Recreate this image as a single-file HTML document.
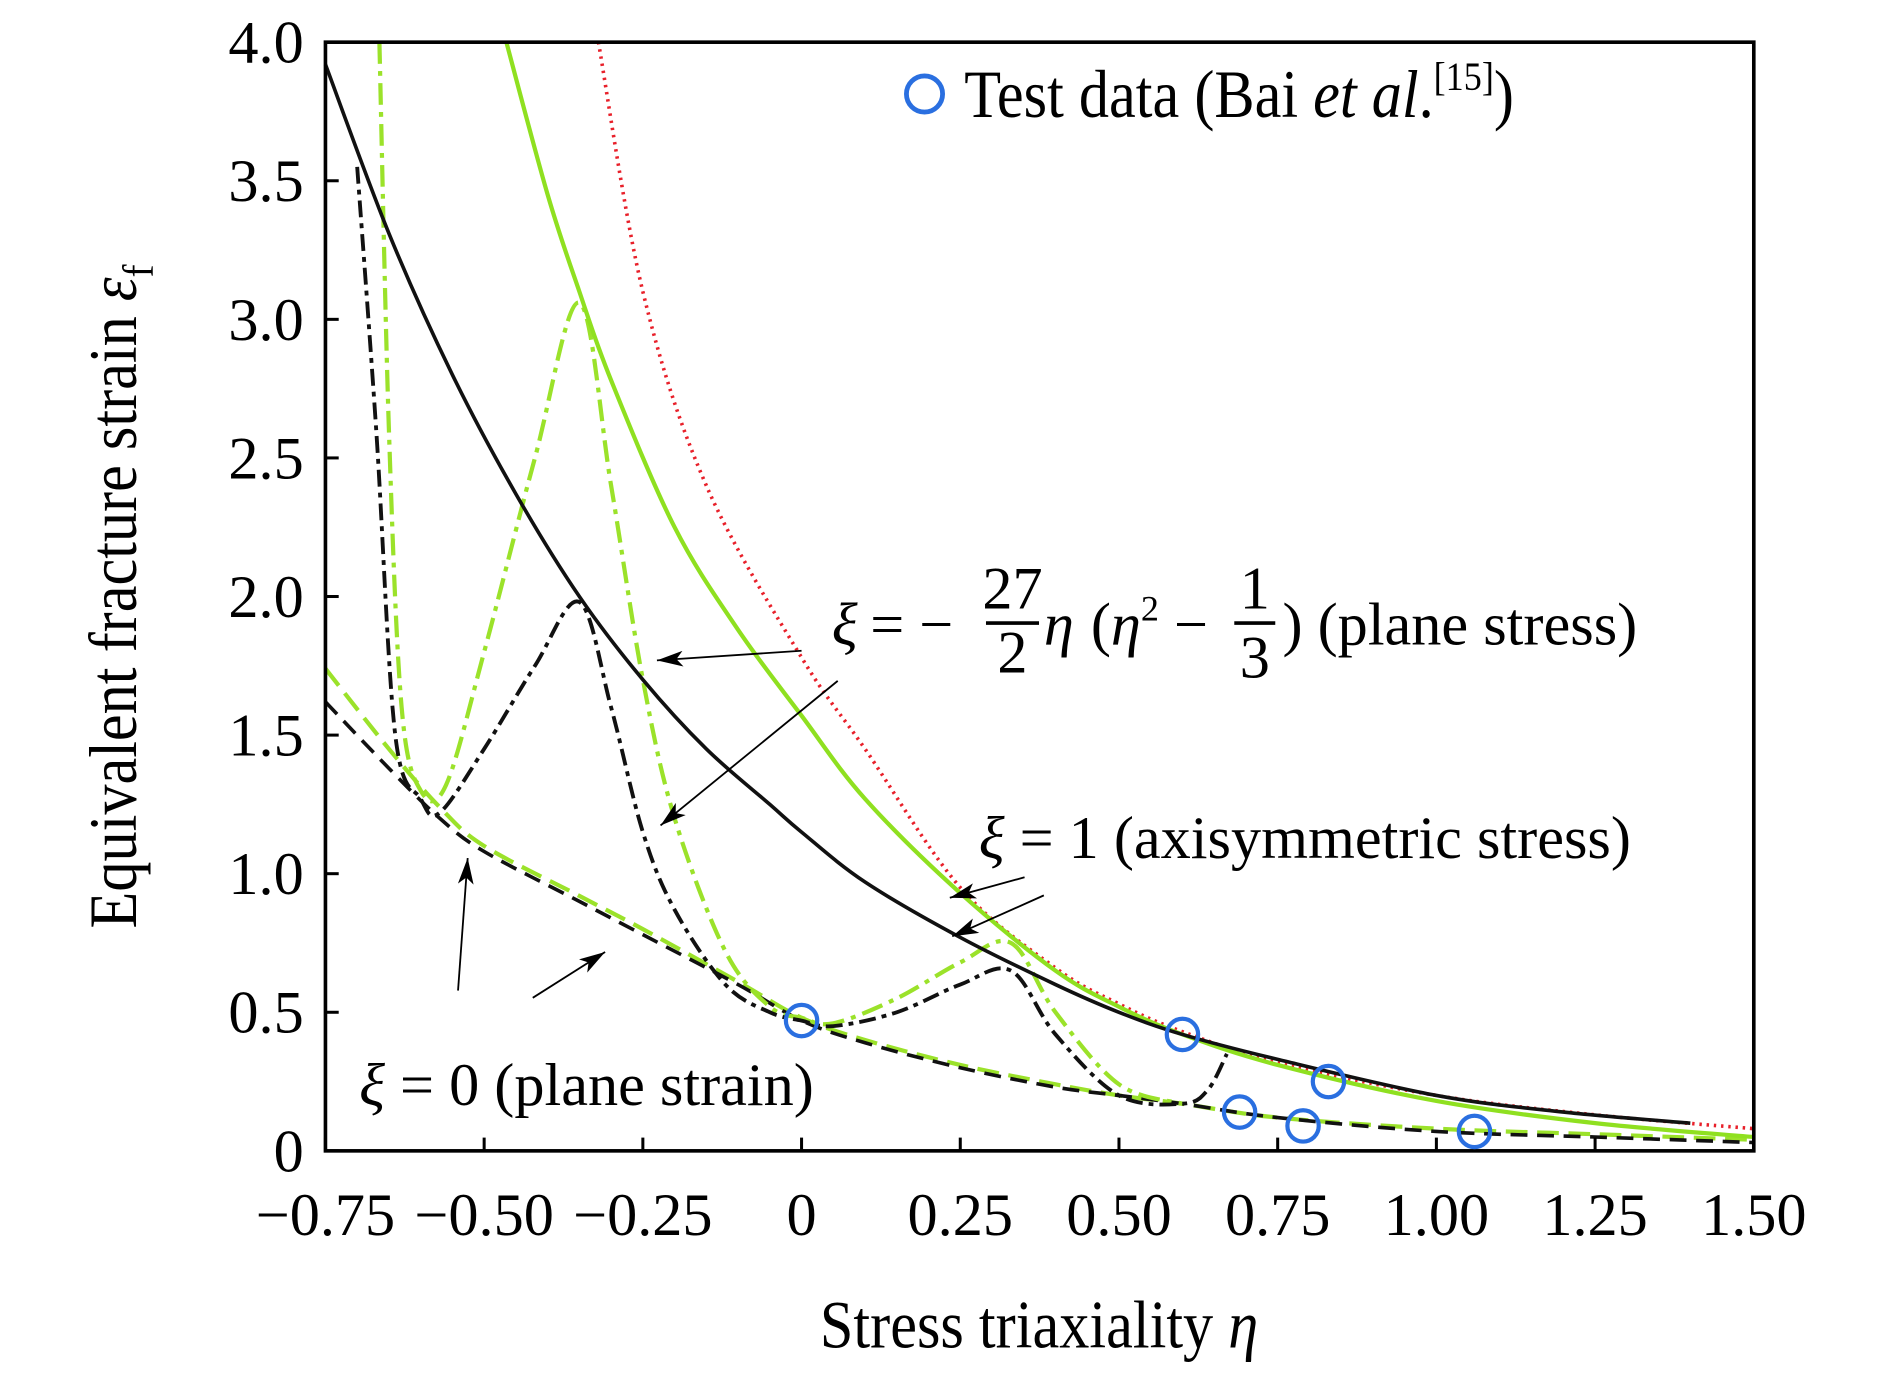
<!DOCTYPE html>
<html><head><meta charset="utf-8"><style>
html,body{margin:0;padding:0;background:#fff;}
svg{display:block;}
text{font-family:"Liberation Serif",serif;fill:#000;}
</style></head><body>
<svg id="chart" width="1890" height="1375" viewBox="0 0 1568 1141" preserveAspectRatio="none" xmlns="http://www.w3.org/2000/svg">
<defs>
<marker id="ah2" viewBox="0 0 20 12" markerWidth="22" markerHeight="13" refX="20" refY="6" orient="auto" markerUnits="userSpaceOnUse"><path d="M0,0 L20,6 L0,12 L5,6 z" fill="#000"/></marker>
</defs>
<g id="curves"></g>
<rect x="270" y="35" width="1185" height="920" fill="none" stroke="#000" stroke-width="3"/>
<g id="ticks"></g>
<text transform="translate(113,495) rotate(-90) scale(1,1.12)" text-anchor="middle" font-size="50">Equivalent fracture strain <tspan font-style="italic">ε</tspan><tspan font-size="32" dy="12">f</tspan></text>
<text transform="translate(862,1118) scale(1,1.12)" text-anchor="middle" font-size="50">Stress triaxiality <tspan font-style="italic">η</tspan></text>
<g>
<circle cx="767" cy="78" r="15" fill="none" stroke="#2a6fe0" stroke-width="4"/>
<text transform="translate(800,97) scale(1,1.12)" font-size="50">Test data (Bai <tspan font-style="italic">et al</tspan>.<tspan font-size="30" dy="-20">[15]</tspan><tspan dy="20">)</tspan></text>
</g>
<g font-size="50">
<text x="690" y="535" font-style="italic">ξ</text>
<text x="722" y="535">= −</text>
<text x="840" y="505" text-anchor="middle">27</text>
<line x1="818" y1="517" x2="862" y2="517" stroke="#000" stroke-width="3"/>
<text x="840" y="558" text-anchor="middle">2</text>
<text x="866" y="535" font-style="italic">η</text>
<text x="905" y="535">(<tspan font-style="italic">η</tspan><tspan font-size="30" dy="-20">2</tspan><tspan dy="20"> −</tspan></text>
<text x="1041" y="505" text-anchor="middle">1</text>
<line x1="1024" y1="517" x2="1058" y2="517" stroke="#000" stroke-width="3"/>
<text x="1041" y="562" text-anchor="middle">3</text>
<text x="1064" y="535">) (plane stress)</text>
</g>
<text x="812" y="712" font-size="50"><tspan font-style="italic">ξ</tspan> = 1 (axisymmetric stress)</text>
<text x="298" y="917" font-size="50"><tspan font-style="italic">ξ</tspan> = 0 (plane strain)</text>
<g stroke="#000" stroke-width="1.5" fill="none">
<line x1="665" y1="540" x2="545" y2="548" marker-end="url(#ah2)"/>
<line x1="695" y1="565" x2="548" y2="685" marker-end="url(#ah2)"/>
<line x1="850" y1="728" x2="788" y2="745" marker-end="url(#ah2)"/>
<line x1="866" y1="743" x2="790" y2="777" marker-end="url(#ah2)"/>
<line x1="380" y1="822" x2="388" y2="712" marker-end="url(#ah2)"/>
<line x1="442" y1="828" x2="502" y2="790" marker-end="url(#ah2)"/>
</g>
<g id="points"></g>
</svg>
<script>
// axes
const xTicks=[-0.75,-0.5,-0.25,0,0.25,0.5,0.75,1.0,1.25,1.5];
const xTickLabels=["−0.75","−0.50","−0.25","0","0.25","0.50","0.75","1.00","1.25","1.50"];
const yTicks=[0,0.5,1.0,1.5,2.0,2.5,3.0,3.5,4.0];
const yTickLabels=["0","0.5","1.0","1.5","2.0","2.5","3.0","3.5","4.0"];
// series [eta, eps]
const axiEta=[-0.75,-0.65,-0.55,-0.45,-0.35,-0.25,-0.15,-0.05,0,0.1,0.25,0.4,0.5,0.6,0.75,1.0,1.2,1.4];
const axiEps=[3.92,3.31,2.8,2.37,2.0,1.7,1.45,1.25,1.15,0.97,0.77,0.6,0.5,0.42,0.33,0.2,0.14,0.1];
const greenEta=[-0.465,-0.4,-0.35,-0.3,-0.2,-0.1,0,0.1,0.25,0.4,0.5,0.6,0.75,1.0,1.25,1.5];
const greenEps=[4.0,3.45,3.1,2.78,2.25,1.88,1.57,1.27,0.93,0.65,0.52,0.42,0.31,0.18,0.1,0.05];
const redEta=[-0.32,-0.25,-0.15,0,0.1,0.25,0.4,0.5,0.6,0.75,1.0,1.25,1.5];
const redEps=[4.0,3.1,2.4,1.78,1.45,0.95,0.66,0.53,0.43,0.32,0.2,0.13,0.08];
const psBlackEta=[-0.75,-0.65,-0.57,-0.5,-0.35,-0.25,-0.1,0,0.1,0.25,0.4,0.5,0.6,0.75,1.0,1.25,1.5];
const psBlackEps=[1.62,1.38,1.2,1.08,0.9,0.78,0.6,0.47,0.39,0.3,0.23,0.2,0.17,0.12,0.07,0.05,0.03];
const psGreenEta=[-0.75,-0.65,-0.57,-0.5,-0.35,-0.25,-0.1,0,0.1,0.25,0.4,0.5,0.6,0.75,1.0,1.25,1.5];
const psGreenEps=[1.74,1.45,1.24,1.1,0.92,0.8,0.61,0.48,0.4,0.31,0.24,0.2,0.17,0.12,0.08,0.06,0.04];
const sBlackEta=[-0.7,-0.67,-0.64,-0.6,-0.57,-0.5,-0.42,-0.35,-0.3,-0.25,-0.2,-0.12,-0.05,0,0.05,0.15,0.25,0.33,0.4,0.5,0.6,0.64,0.67];
const sBlackEps=[3.55,2.6,1.5,1.27,1.22,1.45,1.75,1.98,1.6,1.15,0.87,0.6,0.5,0.47,0.45,0.5,0.6,0.65,0.42,0.2,0.17,0.22,0.35];
const sGreenEta=[-0.665,-0.65,-0.63,-0.6,-0.56,-0.5,-0.42,-0.35,-0.3,-0.25,-0.2,-0.12,-0.05,0,0.05,0.15,0.25,0.33,0.4,0.5,0.6];
const sGreenEps=[4.0,2.6,1.6,1.3,1.32,1.8,2.5,3.06,2.4,1.7,1.2,0.72,0.52,0.48,0.46,0.55,0.68,0.75,0.5,0.24,0.17];
const testEta=[0,0.6,0.69,0.79,0.83,1.06];
const testEps=[0.47,0.42,0.14,0.09,0.25,0.07];

const X=v=>665+v*526.67, Y=v=>955-v*230;
const NS="http://www.w3.org/2000/svg";
const curves=document.getElementById('curves');
function pathFrom(ex,ey){
  const p=ex.map((e,i)=>[X(e),Y(ey[i])]);
  let d=`M${p[0][0]},${p[0][1]}`;
  for(let i=0;i<p.length-1;i++){
    const p0=p[i-1]||p[i],p1=p[i],p2=p[i+1],p3=p[i+2]||p2;
    const c1=[p1[0]+(p2[0]-p0[0])/6,p1[1]+(p2[1]-p0[1])/6];
    const c2=[p2[0]-(p3[0]-p1[0])/6,p2[1]-(p3[1]-p1[1])/6];
    d+=` C${c1[0]},${c1[1]} ${c2[0]},${c2[1]} ${p2[0]},${p2[1]}`;
  }
  return d;
}
function addCurve(ex,ey,color,w,dash,name){
  const el=document.createElementNS(NS,'path');
  el.setAttribute('d',pathFrom(ex,ey));
  el.setAttribute('fill','none');el.setAttribute('stroke',color);el.setAttribute('stroke-width',w);
  if(dash)el.setAttribute('stroke-dasharray',dash);
  
  
  curves.appendChild(el);
}
addCurve(redEta,redEps,'#e8202a',3,'2 4','red-dotted-curve');
addCurve(psGreenEta,psGreenEps,'#9be22a',3.5,'18 8','plane-strain-green-dashed');
addCurve(psBlackEta,psBlackEps,'#111',3,'14 8','plane-strain-black-dashed');
addCurve(sGreenEta,sGreenEps,'#9be22a',3.5,'18 6 4 6','plane-stress-green-dashdot');
addCurve(sBlackEta,sBlackEps,'#111',3.2,'14 5 4 5','plane-stress-black-dashdot');
addCurve(greenEta,greenEps,'#8fe020',3.5,null,'axisymmetric-green-solid');
addCurve(axiEta,axiEps,'#111',3,null,'axisymmetric-black-solid');

const ticks=document.getElementById('ticks');
xTicks.forEach((v,i)=>{
  const l=document.createElementNS(NS,'line');
  l.setAttribute('x1',X(v));l.setAttribute('x2',X(v));l.setAttribute('y1',955);l.setAttribute('y2',944);
  l.setAttribute('stroke','#000');l.setAttribute('stroke-width',2.5);
  
  
  ticks.appendChild(l);
  const t=document.createElementNS(NS,'text');
  t.setAttribute('x',X(v));t.setAttribute('y',1025);t.setAttribute('text-anchor','middle');t.setAttribute('font-size','50');
  t.textContent=xTickLabels[i];
  
  
  ticks.appendChild(t);
});
yTicks.forEach((v,i)=>{
  const l=document.createElementNS(NS,'line');
  l.setAttribute('x1',270);l.setAttribute('x2',281);l.setAttribute('y1',Y(v));l.setAttribute('y2',Y(v));
  l.setAttribute('stroke','#000');l.setAttribute('stroke-width',2.5);
  
  
  ticks.appendChild(l);
  const t=document.createElementNS(NS,'text');
  t.setAttribute('x',252);t.setAttribute('y',Y(v)+17);t.setAttribute('text-anchor','end');t.setAttribute('font-size','50');
  t.textContent=yTickLabels[i];
  
  
  ticks.appendChild(t);
});
const pts=document.getElementById('points');
testEta.forEach((e,i)=>{
  const c=document.createElementNS(NS,'circle');
  c.setAttribute('cx',X(e));c.setAttribute('cy',Y(testEps[i]));c.setAttribute('r',13);
  c.setAttribute('fill','none');c.setAttribute('stroke','#2a6fe0');c.setAttribute('stroke-width',3.5);
  
  
  pts.appendChild(c);
});
</script>
</body></html>
